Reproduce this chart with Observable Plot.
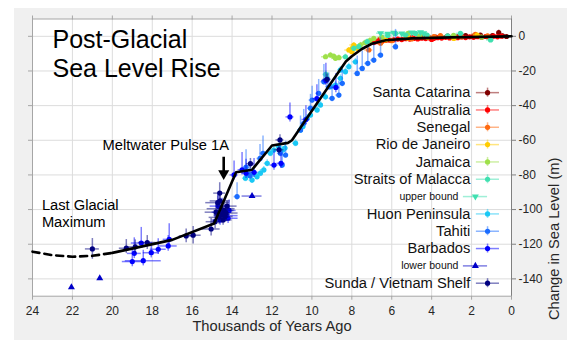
<!DOCTYPE html>
<html>
<head>
<meta charset="utf-8">
<script src="https://cdn.jsdelivr.net/npm/d3@7"></script>
<script src="https://cdn.jsdelivr.net/npm/@observablehq/plot@0.6"></script>
<style>
  body { margin: 0; background: #ffffff; }
  #wrap { position: absolute; left: 14px; top: 8px; width: 553px; height: 332px; background: #f0f0f0; }
  #wrap svg { display: block; }
</style>
</head>
<body>
<div id="wrap"></div>
<script>
// ---------- data ----------
const xTicks = [24, 22, 20, 18, 16, 14, 12, 10, 8, 6, 4, 2, 0];
const yTicks = [0, -20, -40, -60, -80, -100, -120, -140];

const seriesNames = ["Santa Catarina", "Australia", "Senegal", "Rio de Janeiro", "Jamaica",
  "Straits of Malacca", "upper bound", "Huon Peninsula", "Tahiti", "Barbados", "lower bound",
  "Sunda / Vietnam Shelf"];
const seriesColors = ["#800000", "#ff0000", "#ff6a10", "#ffcc00", "#9ee04a",
  "#40e0b0", "#40e0b0", "#19c8f5", "#1a6cff", "#0000ff", "#0000c8", "#000080"];

// [age (kyr), level (m), age error, level error down, level error up]
const santaCatarina = [
  [4.4, -0.3, 0.2, 1, 1], [3.8, -0.5, 0.2, 1, 1], [3.2, 0.2, 0.15, 1, 1], [2.7, -0.3, 0.2, 1, 1],
  [2.3, 0.4, 0.15, 1, 1], [1.9, 0.1, 0.2, 1, 1], [1.56, 0.7, 0.15, 1, 1], [1.2, -0.2, 0.2, 1, 1],
  [0.95, 0.4, 0.15, 1, 1], [0.64, 2.1, 0.1, 1.5, 1.5], [0.45, 0.3, 0.15, 1, 1], [0.25, -0.1, 0.1, 1, 1]
];
const australia = [
  [6.9, -3.6, 0.15, 1, 1], [6.73, -3.1, 0.15, 1, 1], [6.6, -1.8, 0.15, 1, 1], [6.5, -2.8, 0.15, 1, 1],
  [6.3, -2.4, 0.15, 1, 1], [6.1, -2.2, 0.15, 1, 1], [5.9, -2.0, 0.15, 1, 1], [5.7, -1.6, 0.15, 1, 1],
  [5.5, -1.9, 0.15, 1, 1], [5.3, -1.4, 0.15, 1, 1], [5.1, -1.6, 0.15, 1, 1], [5.0, -0.8, 0.15, 1, 1],
  [4.9, -1.2, 0.15, 1, 1], [4.7, -1.5, 0.15, 1, 1], [4.5, -1.1, 0.15, 1, 1], [4.3, -1.3, 0.15, 1, 1],
  [4.1, -0.9, 0.15, 1, 1], [4.0, -1.8, 0.15, 1, 1], [3.9, -1.2, 0.15, 1, 1], [3.7, -0.8, 0.15, 1, 1],
  [3.5, -1.0, 0.15, 1, 1], [3.3, -0.6, 0.15, 1, 1], [3.1, -0.9, 0.15, 1, 1], [2.9, -0.5, 0.15, 1, 1],
  [2.7, -0.8, 0.15, 1, 1], [2.5, -0.4, 0.15, 1, 1], [2.3, -0.7, 0.15, 1, 1], [2.1, -0.3, 0.15, 1, 1],
  [1.9, -0.6, 0.15, 1, 1], [1.7, -0.2, 0.15, 1, 1], [1.5, -0.5, 0.15, 1, 1], [1.3, -0.1, 0.15, 1, 1],
  [1.1, -0.4, 0.15, 1, 1], [0.9, 0.1, 0.15, 1, 1], [0.7, -0.3, 0.15, 1, 1], [0.5, 0.1, 0.15, 1, 1]
];
const senegal = [
  [7.15, -7.9, 0.2, 1.5, 1.5], [6.56, -4.0, 0.2, 1.5, 1.5], [6.0, -2.5, 0.2, 1, 1], [5.0, -1.5, 0.2, 1, 1],
  [3.89, -0.2, 0.2, 1, 1], [3.56, 0.4, 0.2, 1, 1], [2.5, -0.3, 0.2, 1, 1], [1.81, 1.2, 0.2, 1, 1],
  [1.2, 0.3, 0.2, 1, 1]
];
const rioDeJaneiro = [
  [8.15, -7.9, 0.2, 1.5, 1.5], [8.0, -8.9, 0.2, 1.5, 1.5], [7.98, -6.9, 0.2, 1.5, 1.5], [7.9, -5.0, 0.2, 1.5, 1.5],
  [7.73, -6.9, 0.2, 1.5, 1.5], [6.31, -2.1, 0.2, 1, 1], [5.2, -1.0, 0.2, 1, 1], [4.2, -0.5, 0.2, 1, 1],
  [2.89, -1.2, 0.2, 1, 1], [1.72, 0.7, 0.2, 1, 1]
];
const jamaica = [
  [9.32, -11.8, 0.2, 1.5, 1.5], [9.07, -10.8, 0.2, 1.5, 1.5], [8.9, -11.5, 0.2, 1.5, 1.5], [8.82, -12.7, 0.2, 1.5, 1.5],
  [8.65, -12.3, 0.2, 1.5, 1.5], [7.57, -5.0, 0.2, 1.5, 1.5], [7.35, -3.7, 0.2, 1.5, 1.5], [7.1, -2.5, 0.2, 1.5, 1.5],
  [6.9, -1.2, 0.2, 1, 1], [6.5, -0.5, 0.2, 1, 1], [5.18, 1.7, 0.2, 1, 1], [4.6, 0.3, 0.2, 1, 1],
  [2.9, 0.5, 0.2, 1, 1], [1.5, -0.5, 0.2, 1, 1]
];
const straitsOfMalacca = [
  [9.3, -22.0, 0.15, 2, 2], [9.24, -24.2, 0.15, 2, 2], [8.32, -11.8, 0.15, 1.5, 1.5], [7.9, -6.9, 0.15, 1.5, 1.5],
  [7.65, -6.0, 0.15, 1.5, 1.5], [7.23, -3.1, 0.15, 1.5, 1.5], [6.2, 0.5, 0.2, 1, 1], [5.81, 1.7, 0.2, 1, 1],
  [5.31, 0.7, 0.2, 1, 1], [4.81, 1.7, 0.2, 1, 1], [4.23, 0.7, 0.2, 1, 1], [3.2, 0.3, 0.2, 1, 1],
  [2.56, 1.7, 0.2, 1, 1], [1.05, -2.1, 0.2, 1, 1]
];
const upperBound = [
  [6.56, 1.8, 0.2, 0, 0], [6.2, 1.5, 0.2, 0, 0], [5.9, 2.0, 0.2, 0, 0], [5.5, 1.6, 0.2, 0, 0],
  [5.0, 2.2, 0.2, 0, 0], [4.56, 2.4, 0.2, 0, 0], [4.4, 1.7, 0.2, 0, 0]
];
const huonPeninsula = [
  [13.33, -81.9, 0.15, 2, 2], [13.16, -80.0, 0.15, 2, 2], [13.0, -83.0, 0.15, 2, 2], [12.91, -79.0, 0.15, 2, 2],
  [12.75, -81.0, 0.15, 2, 2], [12.58, -79.0, 0.15, 2, 2], [12.41, -77.1, 0.15, 2, 2], [12.24, -73.3, 0.15, 2, 2],
  [12.08, -67.5, 0.15, 2, 2], [11.91, -65.6, 0.15, 2, 2], [11.66, -63.7, 0.15, 2, 2], [11.46, -65.6, 0.15, 2, 2],
  [11.35, -64.5, 0.15, 2, 2], [10.82, -61.7, 0.15, 2, 2], [10.57, -54.0, 0.15, 2, 2], [10.45, -52.0, 0.15, 2, 2],
  [10.24, -47.3, 0.15, 2, 2], [10.07, -45.4, 0.15, 2, 2], [9.74, -42.5, 0.15, 2, 2], [9.57, -39.6, 0.15, 2, 2],
  [9.32, -34.9, 0.15, 2, 2], [9.07, -29.1, 0.15, 2, 2], [8.82, -28.1, 0.15, 2, 2], [8.57, -24.2, 0.15, 2, 2],
  [8.57, -19.4, 0.15, 2, 2], [8.32, -20.4, 0.15, 2, 2], [8.15, -17.5, 0.15, 2, 2], [7.82, -14.7, 0.15, 2, 2]
];
const tahiti = [
  [13.75, -92.5, 0.15, 2, 8], [13.3, -75.5, 0.15, 2, 10], [13.1, -80.5, 0.15, 2, 8], [12.6, -70.5, 0.15, 2, 8],
  [12.45, -67.5, 0.15, 2, 10], [11.58, -67.5, 0.15, 2, 8], [11.49, -74.3, 0.15, 2, 8], [11.32, -68.5, 0.15, 2, 8],
  [10.57, -54.0, 0.15, 2, 8], [10.41, -50.2, 0.15, 2, 8], [10.07, -41.5, 0.15, 2, 8], [9.99, -36.8, 0.15, 2, 8],
  [9.66, -32.9, 0.15, 2, 8], [9.4, -26.2, 0.15, 2, 10], [9.16, -29.1, 0.15, 2, 8], [8.99, -35.8, 0.15, 2, 8],
  [8.65, -33.9, 0.15, 2, 8], [8.48, -27.1, 0.15, 2, 8], [7.73, -21.4, 0.15, 2, 10], [7.48, -18.5, 0.15, 2, 10],
  [7.2, -15.6, 0.15, 2, 10], [6.9, -13.7, 0.15, 2, 10], [6.56, -10.8, 0.15, 2, 10], [5.81, -6.0, 0.15, 2, 10]
];
const barbados = [
  [19.0, -130.0, 0.5, 3, 8], [18.45, -129.5, 0.9, 3, 6], [18.9, -125.3, 0.35, 3, 9], [18.55, -119.3, 0.5, 3, 9],
  [18.05, -124.9, 0.4, 3, 6], [17.7, -122.9, 0.4, 3, 6], [17.2, -121.0, 0.45, 3, 6], [17.15, -117.2, 0.3, 3, 9],
  [14.5, -101.5, 0.5, 3, 8], [14.3, -103.5, 0.6, 3, 6], [14.15, -100.5, 0.35, 3, 6], [14.7, -98.0, 0.4, 3, 7],
  [14.2, -105.0, 0.5, 3, 5], [14.6, -106.0, 0.4, 3, 4], [13.9, -80.0, 0.2, 3, 8], [13.5, -77.0, 0.2, 3, 10],
  [13.3, -79.0, 0.2, 3, 8], [12.9, -78.5, 0.2, 3, 8], [11.9, -74.3, 0.2, 3, 8], [11.55, -73.3, 0.2, 3, 6],
  [11.1, -46.5, 0.2, 3, 8], [10.3, -48.0, 0.2, 3, 8], [9.75, -36.0, 0.2, 3, 8], [9.3, -25.5, 0.2, 3, 10],
  [8.8, -29.5, 0.2, 3, 8]
];
const lowerBound = [
  [22.05, -144.8, 0, 0, 0], [20.63, -139.6, 0, 0, 0], [13.0, -92.2, 0.5, 0, 0]
];
const sundaShelf = [
  [21.0, -122.7, 0.35, 6, 6], [19.3, -122.3, 0.35, 3, 5], [18.85, -121.5, 0.4, 4, 4], [18.25, -119.0, 0.45, 4, 4],
  [16.3, -115.2, 0.35, 4, 4], [15.95, -114.8, 0.4, 5, 5], [15.05, -111.2, 0.45, 4, 6], [14.62, -90.5, 0.3, 5, 6],
  [14.72, -96.0, 0.6, 4, 4], [14.6, -95.0, 0.5, 4, 4], [14.55, -99.5, 0.7, 5, 5], [14.4, -100.5, 0.5, 4, 4],
  [14.8, -101.5, 0.55, 5, 5], [14.5, -103.0, 0.4, 4, 4], [14.3, -102.0, 0.6, 5, 5], [14.65, -104.5, 0.5, 4, 4],
  [14.45, -106.0, 0.45, 3, 3], [14.85, -107.0, 0.45, 4, 4], [14.25, -98.0, 0.5, 3, 3], [14.35, -104.0, 0.4, 3, 3],
  [13.08, -73.5, 0.2, 3, 3], [11.65, -65.5, 0.25, 3, 3], [11.6, -59.8, 0.2, 3, 3], [9.24, -24.8, 0.2, 3, 3]
];
const seriesData = [santaCatarina, australia, senegal, rioDeJaneiro, jamaica, straitsOfMalacca,
  upperBound, huonPeninsula, tahiti, barbados, lowerBound, sundaShelf];

// sea-level curve
const curveAge = [20, 17, 14.9, 13.8, 13.0, 12.0, 11.2, 11.0, 10.0, 9.2, 8.3, 8.0, 7.5, 7.0, 6.3, 5.0, 3.0, 0];
const curveLevel = [-125, -117.5, -108, -78.5, -77, -63, -61.5, -60, -43, -29.5, -14.5, -11.5, -7.3, -4.3, -2.3, -1.2, -0.6, 0];
const glacialAge = [24, 23, 22, 21, 20];
const glacialLevel = [-124.3, -126.3, -127.2, -126.7, -125];

// annotations
const titleText = ["Post-Glacial", "Sea Level Rise"];
const lgmText = ["Last Glacial", "Maximum"];
const pulseText = "Meltwater Pulse 1A";

// ---------- build ----------
const points = seriesData.flatMap((arr, i) =>
  arr.map(([age, level, ageErr, dn, up]) => ({series: seriesNames[i], age, level, ageErr, dn, up})));
const curve = curveAge.map((age, i) => ({age, level: curveLevel[i]}));
const glacial = glacialAge.map((age, i) => ({age, level: glacialLevel[i]}));

const seriesMarks = seriesNames.flatMap((name) => {
  const rows = points.filter(d => d.series === name);
  const bound = name.endsWith("bound");
  return [
    Plot.ruleY(rows.filter(d => d.ageErr > 0), {x1: d => d.age + d.ageErr, x2: d => d.age - d.ageErr, y: "level",
      stroke: "series", strokeOpacity: 0.5, strokeWidth: 1.5}),
    Plot.ruleX(rows.filter(d => d.dn + d.up > 0), {x: "age", y1: d => d.level - d.dn, y2: d => d.level + d.up,
      stroke: "series", strokeOpacity: 0.5, strokeWidth: 1.5}),
    Plot.dot(rows, {x: "age", y: "level", fill: "series", r: bound ? 2.6 : 2.6,
      symbol: bound ? "triangle" : "circle", rotate: name === "upper bound" ? 180 : 0})
  ];
});

// legend (laid out in data space, one row per series)
const legendRows = seriesNames.map((name, i) => ({name, small: name.endsWith("bound"), y: -32.5 - 10 * i}));
const mainRows = legendRows.filter(d => !d.small);
const smallRows = legendRows.filter(d => d.small);
const font = "'Liberation Sans', Arial, Helvetica, sans-serif";

const chart = Plot.plot({
  width: 553,
  height: 332,
  marginLeft: 18,
  marginRight: 56,
  marginTop: 10.5,
  marginBottom: 44.3,
  style: {background: "transparent", fontFamily: font, fontSize: "12px", color: "#262626", overflow: "visible"},
  x: {domain: [24, 0]},
  y: {domain: [-150, 10]},
  color: {domain: seriesNames, range: seriesColors},
  marks: [
    Plot.frame({fill: "white", stroke: null}),
    Plot.gridX({ticks: xTicks, stroke: "#dcdcdc", strokeOpacity: 1}),
    Plot.gridY({ticks: yTicks, stroke: "#dcdcdc", strokeOpacity: 1}),
    Plot.frame({stroke: "#a6a6a6"}),
    Plot.axisX({anchor: "bottom", ticks: xTicks, tickSize: 4, tickPadding: 6, tickFormat: d => String(d), label: null, stroke: "#a6a6a6", fill: "#262626"}),
    Plot.axisX({anchor: "top", ticks: xTicks, tickSize: 4, tickFormat: () => "", label: null, stroke: "#a6a6a6"}),
    Plot.axisY({anchor: "right", ticks: yTicks, tickSize: 4, tickPadding: 3, tickFormat: d => String(d), label: null, stroke: "#808080", fill: "#262626"}),
    Plot.axisY({anchor: "left", ticks: yTicks, tickSize: 4, tickFormat: () => "", label: null, stroke: "#a6a6a6"}),
    Plot.ruleX([0], {stroke: "#808080"}),
    Plot.text(["Thousands of Years Ago"], {frameAnchor: "bottom", dy: 34.3, lineAnchor: "bottom", fontSize: 14.7, fill: "#262626"}),
    Plot.text(["Change in Sea Level (m)"], {frameAnchor: "right", dx: 43, rotate: -90, fontSize: 14.7, fill: "#262626"}),

    ...seriesMarks,

    Plot.line(glacial, {x: "age", y: "level", stroke: "black", strokeWidth: 2.6, strokeDasharray: "7,5"}),
    Plot.line(curve, {x: "age", y: "level", stroke: "black", strokeWidth: 2.6}),

    // annotations
    Plot.text([titleText[0]], {x: 23, y: -7, textAnchor: "start", lineAnchor: "bottom", fontSize: 25, fill: "black"}),
    Plot.text([titleText[1]], {x: 23, y: -23.2, textAnchor: "start", lineAnchor: "bottom", fontSize: 25, fill: "black"}),
    Plot.text([lgmText[0]], {x: 23.53, y: -100.4, textAnchor: "start", lineAnchor: "bottom", fontSize: 14.7, fill: "black"}),
    Plot.text([lgmText[1]], {x: 23.53, y: -109.9, textAnchor: "start", lineAnchor: "bottom", fontSize: 14.7, fill: "black"}),
    Plot.text([pulseText], {x: 14.15, y: -65.4, textAnchor: "end", lineAnchor: "bottom", fontSize: 14.7, fill: "black"}),
    Plot.link([pulseText], {x1: 14.42, y1: -69.5, x2: 14.42, y2: -78, stroke: "black", strokeWidth: 2.6}),
    Plot.dot([pulseText], {x: 14.42, y: -79.2, symbol: "triangle", rotate: 180, r: 4.1, fill: "black"}),

    // legend
    Plot.text(mainRows, {x: 2.06, y: "y", text: "name", textAnchor: "end", fontSize: 14.7, fill: "#111"}),
    Plot.text(smallRows, {x: 2.66, y: "y", text: "name", textAnchor: "end", fontSize: 10.5, fill: "#111"}),
    Plot.ruleY(mainRows, {x1: 1.76, x2: 0.6, y: "y", stroke: "name", strokeOpacity: 0.5, strokeWidth: 1.5}),
    Plot.ruleX(mainRows, {x: 1.2, y1: d => d.y - 2.6, y2: d => d.y + 2.6, stroke: "name", strokeOpacity: 0.5, strokeWidth: 1.5}),
    Plot.dot(mainRows, {x: 1.2, y: "y", fill: "name", r: 2.6}),
    Plot.ruleY(smallRows, {x1: 2.41, x2: 1.2, y: "y", stroke: "name", strokeOpacity: 0.5, strokeWidth: 1.5}),
    Plot.dot(smallRows, {x: 1.81, y: "y", fill: "name", r: 2.6, symbol: "triangle",
      rotate: d => d.name === "upper bound" ? 180 : 0})
  ]
});
document.getElementById("wrap").appendChild(chart);
</script>
</body>
</html>
